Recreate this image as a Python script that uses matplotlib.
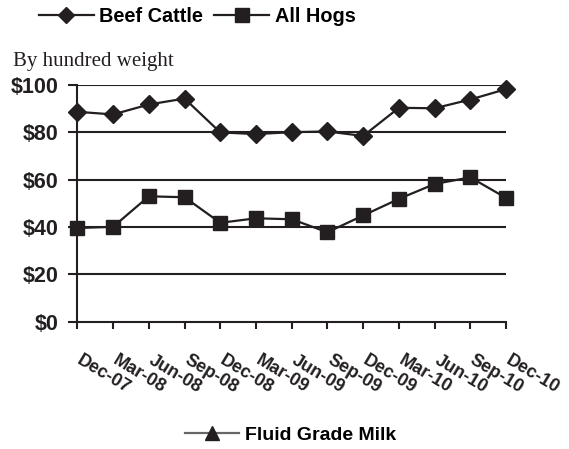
import matplotlib.pyplot as plt
from matplotlib.lines import Line2D
from matplotlib.transforms import ScaledTranslation

months = ['Dec-07', 'Mar-08', 'Jun-08', 'Sep-08', 'Dec-08', 'Mar-09', 'Jun-09',
          'Sep-09', 'Dec-09', 'Mar-10', 'Jun-10', 'Sep-10', 'Dec-10']
beef_cattle = [88.7, 87.6, 91.8, 94.3, 80.0, 79.3, 80.1, 80.4, 78.5, 90.4, 90.2, 93.9, 98.3]
all_hogs = [39.6, 40.1, 53.0, 52.6, 41.8, 43.7, 43.3, 37.8, 44.9, 51.9, 58.2, 61.0, 52.3]
y_ticks = [0, 20, 40, 60, 80, 100]

ink = '#231f20'
plt.rcParams['font.family'] = ['Liberation Sans', 'DejaVu Sans']

fig = plt.figure(figsize=(5.69, 4.49), dpi=100)
ax = fig.add_axes([0.136, 0.2835, 0.7534, 0.527])

x = list(range(len(months)))
ax.plot(x, beef_cattle, color=ink, lw=1.6, marker='D', ms=9.5, label='Beef Cattle', clip_on=False, zorder=3)
ax.plot(x, all_hogs, color=ink, lw=1.6, marker='s', ms=10.5, label='All Hogs', clip_on=False, zorder=3)

ax.set_xlim(0, len(months) - 1)
ax.set_ylim(0, 100)
ax.set_yticks(y_ticks)
ax.set_yticklabels(['$%d' % v for v in y_ticks], fontsize=15.5, fontweight='bold', color=ink)
ax.set_xticks(x)
ax.set_xticklabels([])

# slanted month labels, offset right of and below each tick
lab_tr = ax.get_xaxis_transform() + ScaledTranslation(3.8 / 72, -21.5 / 72, fig.dpi_scale_trans)
for i, m in enumerate(months):
    ax.text(i, 0, m, transform=lab_tr, rotation=-31, rotation_mode='anchor',
            ha='left', va='top', fontsize=13, fontweight='bold', color=ink)

ax.tick_params(axis='y', length=6.5, width=1.5, color=ink, pad=7)
ax.tick_params(axis='x', length=5, width=1.5, color=ink)
for v in y_ticks[1:]:
    ax.axhline(v, color=ink, lw=1.5, zorder=1)
for side in ['top', 'right']:
    ax.spines[side].set_visible(False)
for side in ['left', 'bottom']:
    ax.spines[side].set_linewidth(1.5)
    ax.spines[side].set_color(ink)

fig.legend(loc='upper left', bbox_to_anchor=(0.0685, 0.984), ncol=2, frameon=False,
           prop={'weight': 'bold', 'size': 14.3}, handlelength=2.75, columnspacing=0.57,
           handletextpad=0.28, borderpad=0, borderaxespad=0, markerscale=0.9)
milk = Line2D([], [], color='#666666', lw=1.6, marker='^', ms=10, mfc=ink, mec=ink)
fig.legend([milk], ['Fluid Grade Milk'], loc='lower left', bbox_to_anchor=(0.325, 0.012),
           frameon=False, prop={'weight': 'bold', 'size': 14}, handlelength=2.8,
           handletextpad=0.3, borderpad=0, borderaxespad=0)

fig.text(0.023, 0.862, 'By hundred weight', fontsize=15, family='Liberation Serif',
         color=ink, va='center')

fig.savefig('out.png', dpi=100)
